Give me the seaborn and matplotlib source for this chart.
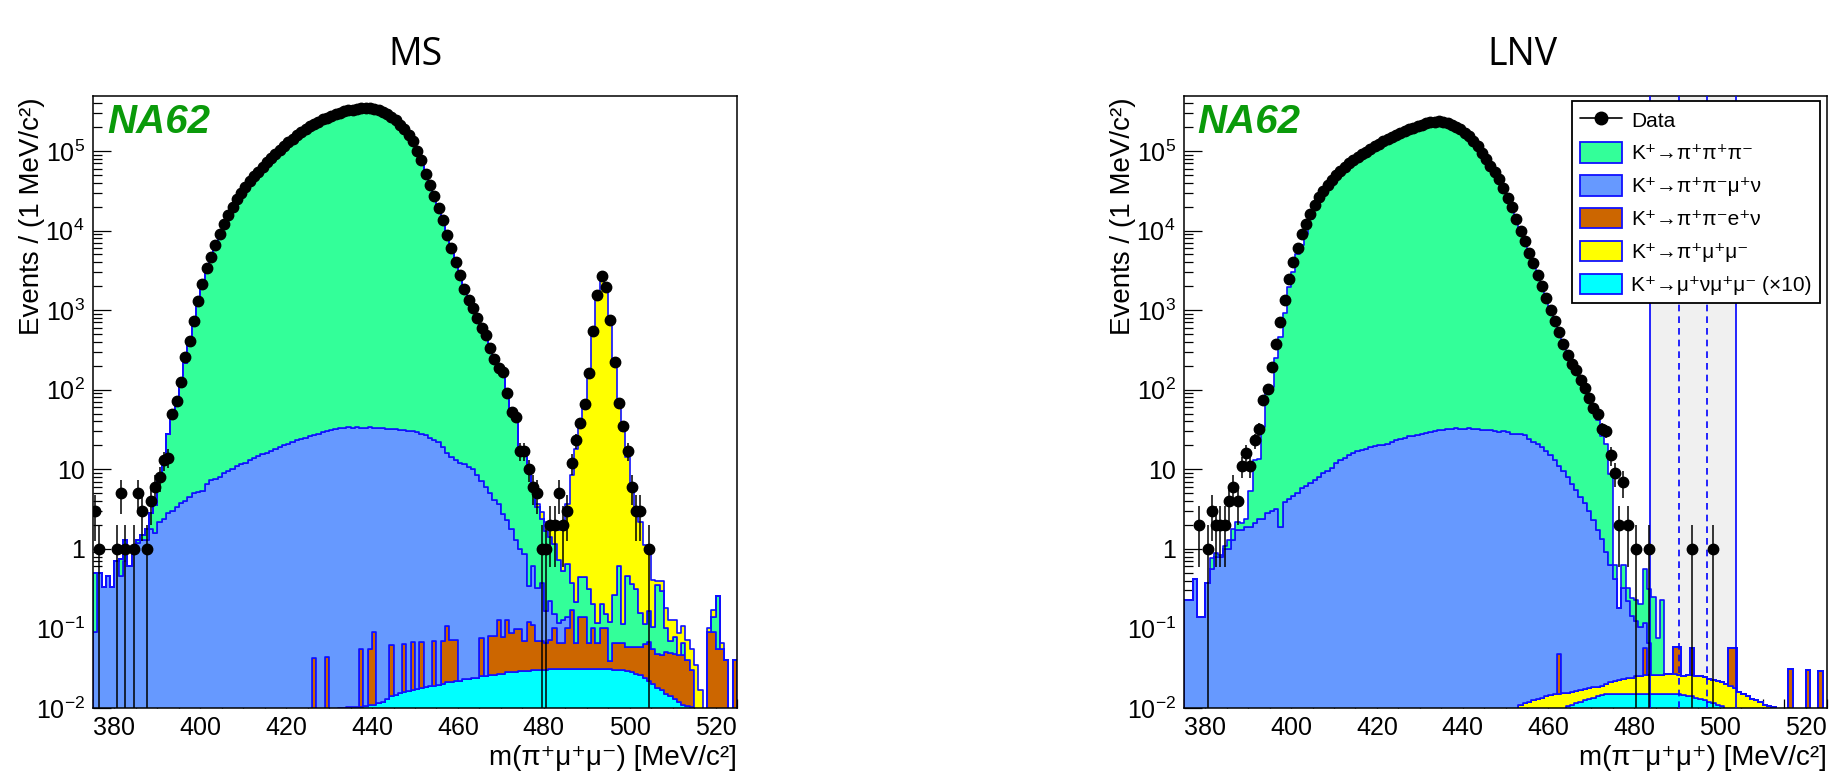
import numpy as np
import pandas as pd
import matplotlib
matplotlib.use("Agg")
import matplotlib.pyplot as plt
import seaborn as sns
from matplotlib.patches import Patch
from matplotlib.lines import Line2D
from matplotlib.ticker import FixedLocator, FuncFormatter, NullFormatter

# ---------------- data : 1 MeV bins from 375 to 525 MeV/c^2 ----------------
bin_edges = list(range(375, 526))
x_ticks = [380, 400, 420, 440, 460, 480, 500, 520]
y_ticks = [1e-2, 1e-1, 1, 10, 1e2, 1e3, 1e4, 1e5]

labels = ["K\u207a\u2192\u03c0\u207a\u03c0\u207a\u03c0\u207b",
          "K\u207a\u2192\u03c0\u207a\u03c0\u207b\u03bc\u207a\u03bd",
          "K\u207a\u2192\u03c0\u207a\u03c0\u207be\u207a\u03bd",
          "K\u207a\u2192\u03c0\u207a\u03bc\u207a\u03bc\u207b",
          "K\u207a\u2192\u03bc\u207a\u03bd\u03bc\u207a\u03bc\u207b (\u00d710)"]

# ---- MS panel ----
ms_data = [
    3, 1, 0, 0, 0, 1, 5, 1, 0, 1,
    5, 3, 1, 4, 6, 8, 13, 14, 50, 72,
    126, 260, 410, 730, 1300, 2130, 3400, 4650, 6550, 9100,
    12000, 15700, 20000, 25000, 30000, 35500, 41500, 48000, 55000, 63000,
    72000, 81000, 91000, 104000, 115000, 128000, 141000, 158000, 173000, 186000,
    203000, 219000, 234000, 251000, 263000, 275000, 288000, 302000, 316000, 324000,
    331000, 339000, 343000, 347000, 343000, 339000, 324000, 309000, 288000, 269000,
    245000, 214000, 186000, 158000, 132000, 100000, 76000, 51000, 37000, 27000,
    19000, 13500, 8900, 6000, 4000, 2750, 1860, 1350, 1050, 800,
    600, 490, 330, 245, 186, 166, 91, 52, 46, 17,
    17, 10, 6, 5, 1, 1, 2, 2, 5, 2,
    3, 12, 23, 38, 67, 160, 550, 1550, 2650, 1950,
    760, 224, 68, 35, 17, 6, 3, 3, 0, 1,
    0, 0, 0, 0, 0, 0, 0, 0, 0, 0,
    0, 0, 0, 0, 0, 0, 0, 0, 0, 0]

ms_k3pi = [
    0.4, 0, 0, 0, 0, 0, 0.3, 0.6, 0, 0.05,
    0.1, 0.2, 0.5, 1.0, 2.0, 5.0, 12, 25, 45, 70,
    130, 210, 380, 700, 1250, 1900, 3000, 4300, 6000, 8500,
    11500, 15000, 19500, 24500, 29500, 35000, 41000, 47500, 55000, 62000,
    71000, 80000, 90000, 102000, 113000, 126000, 139000, 155000, 170000, 183000,
    200000, 215000, 230000, 247000, 259000, 271000, 284000, 298000, 312000, 320000,
    327000, 335000, 339000, 342000, 339000, 335000, 322000, 307000, 288000, 270000,
    248000, 218000, 190000, 162000, 135000, 103000, 78000, 53000, 38500, 28000,
    19500, 14000, 9200, 6200, 4100, 2800, 1900, 1400, 1080, 830,
    620, 500, 340, 250, 190, 165, 95, 55, 45, 18,
    14, 10, 5, 3, 2, 1.5, 1.2, 1.0, 0.6, 0.4,
    0.5, 0.2, 0.15, 0.3, 0.3, 0.25, 0.1, 0.05, 0.1, 0.05,
    0.08, 0.2, 0.55, 0.05, 0.4, 0.3, 0.25, 0.1, 0.05, 0.1,
    0.05, 0.3, 0.25, 0.05, 0.02, 0.03, 0, 0.02, 0, 0,
    0, 0, 0, 0, 0.05, 0.2, 0, 0, 0, 0]

ms_ke4mu = [
    0.09, 0.5, 0.33, 0.45, 0.33, 0.7, 0.45, 0.7, 0.6, 1.0,
    1.2, 1.3, 1.3, 1.8, 1.6, 2.2, 2.4, 2.8, 3.0, 3.4,
    3.8, 4.0, 4.5, 5.0, 5.2, 5.4, 6.5, 7.3, 7.5, 8.0,
    9.0, 9.5, 10, 11, 11.5, 12, 13, 14, 14.5, 15.5,
    16, 17, 18, 19, 20, 21, 22, 23, 24, 25,
    26, 27, 28, 29, 30, 31, 32, 33, 33, 34,
    33, 34, 33, 33, 34, 33, 33, 33, 32, 32,
    32, 31, 31, 30, 30, 29, 28, 27, 25, 23,
    22, 19, 16, 14, 13, 12, 11.5, 10.5, 10, 8.5,
    7, 6, 5, 4, 3.5, 2.7, 2.2, 1.7, 1.2, 0.9,
    0.8, 0.22, 0.5, 0.25, 0.3, 0.1, 0.15, 0.05, 0.05, 0.06,
    0.04, 0, 0, 0, 0, 0, 0, 0, 0, 0,
    0, 0, 0, 0, 0, 0, 0, 0, 0, 0,
    0, 0, 0, 0, 0, 0, 0, 0, 0, 0,
    0, 0, 0, 0, 0, 0, 0, 0, 0, 0]

ms_ke4e = [
    0, 0, 0, 0, 0, 0, 0, 0, 0, 0,
    0, 0, 0, 0, 0, 0, 0, 0, 0, 0,
    0, 0, 0, 0, 0, 0, 0, 0, 0, 0,
    0, 0, 0, 0, 0, 0, 0, 0, 0, 0,
    0, 0, 0, 0, 0, 0, 0, 0, 0, 0,
    0, 0.042, 0, 0, 0.044, 0, 0, 0, 0, 0,
    0, 0, 0.045, 0, 0.045, 0.078, 0, 0, 0, 0.048,
    0, 0, 0.048, 0, 0.05, 0, 0.05, 0, 0, 0.05,
    0, 0.05, 0.085, 0.05, 0.05, 0, 0, 0, 0, 0,
    0.05, 0, 0.055, 0.055, 0.1, 0.05, 0.1, 0.06, 0.07, 0.07,
    0.04, 0.09, 0.08, 0.04, 0.04, 0.035, 0.04, 0.07, 0.035, 0.035,
    0.07, 0.14, 0.035, 0.11, 0.11, 0.035, 0.07, 0.035, 0.07, 0.07,
    0.008, 0.035, 0.035, 0.035, 0.03, 0.03, 0.032, 0.032, 0.04, 0.045,
    0.035, 0.03, 0.03, 0.035, 0.035, 0.035, 0.035, 0.035, 0.03, 0.02,
    0, 0, 0, 0.09, 0.09, 0.055, 0.055, 0.04, 0, 0.04]

ms_pimumu = [
    0, 0, 0, 0, 0, 0, 0, 0, 0, 0,
    0, 0, 0, 0, 0, 0, 0, 0, 0, 0,
    0, 0, 0, 0, 0, 0, 0, 0, 0, 0,
    0, 0, 0, 0, 0, 0, 0, 0, 0, 0,
    0, 0, 0, 0, 0, 0, 0, 0, 0, 0,
    0, 0, 0, 0, 0, 0, 0, 0, 0, 0,
    0, 0, 0, 0, 0, 0, 0, 0, 0, 0,
    0, 0, 0, 0, 0, 0, 0, 0, 0, 0,
    0, 0, 0, 0, 0, 0, 0, 0, 0, 0,
    0, 0, 0, 0, 0, 0, 0, 0, 0, 0,
    0, 0, 0.1, 0.3, 0.5, 0.5, 0.6, 0.8, 1.0, 1.6,
    3.0, 8, 18, 35, 65, 160, 540, 1500, 2700, 2000,
    720, 210, 66, 30, 14, 5, 2.5, 2.0, 1.0, 0.8,
    0.3, 0.05, 0.1, 0.08, 0.06, 0.05, 0.04, 0.04, 0.03, 0.025,
    0.035, 0.017, 0, 0.01, 0.03, 0, 0.01, 0, 0, 0]

ms_munumumu = [
    0, 0, 0, 0, 0, 0, 0, 0, 0, 0,
    0, 0, 0, 0, 0, 0, 0, 0, 0, 0,
    0, 0, 0, 0, 0, 0, 0, 0, 0, 0,
    0, 0, 0, 0, 0, 0, 0, 0, 0, 0,
    0, 0, 0, 0, 0, 0, 0, 0, 0, 0,
    0, 0, 0, 0, 0, 0, 0, 0.0101, 0.0101, 0.0102,
    0.0102, 0.0103, 0.0104, 0.0105, 0.0108, 0.011, 0.0115, 0.012, 0.013, 0.014,
    0.0145, 0.0155, 0.016, 0.0165, 0.017, 0.0175, 0.018, 0.0185, 0.019, 0.019,
    0.0195, 0.02, 0.021, 0.021, 0.022, 0.022, 0.023, 0.023, 0.024, 0.024,
    0.025, 0.025, 0.026, 0.026, 0.027, 0.027, 0.028, 0.028, 0.028, 0.029,
    0.029, 0.029, 0.030, 0.030, 0.030, 0.030, 0.031, 0.031, 0.031, 0.031,
    0.031, 0.031, 0.031, 0.031, 0.031, 0.031, 0.031, 0.031, 0.031, 0.031,
    0.031, 0.030, 0.030, 0.030, 0.029, 0.028, 0.027, 0.026, 0.024, 0.022,
    0.020, 0.018, 0.017, 0.015, 0.014, 0.013, 0.012, 0.011, 0.0105, 0.0102,
    0, 0, 0, 0, 0, 0, 0, 0, 0, 0]

# ---- LNV panel ----
lnv_data = [
    0, 0, 0, 2, 0, 1, 3, 2, 2, 2,
    4, 6, 4, 11, 16, 11, 23, 32, 75, 102,
    193, 380, 700, 1320, 2450, 4000, 6000, 9100, 12000, 16200,
    21000, 26000, 31600, 37000, 43600, 50000, 56000, 63000, 70800, 77600,
    85000, 91000, 98000, 105000, 115000, 123000, 132000, 141000, 151000, 158000,
    166000, 178000, 186000, 195000, 204000, 214000, 224000, 229000, 234000, 237000,
    234000, 224000, 214000, 200000, 186000, 170000, 155000, 135000, 115000, 95000,
    79000, 64500, 54000, 44700, 34000, 25700, 19500, 13800, 10000, 7400,
    5250, 3900, 2800, 2000, 1400, 1000, 720, 525, 370, 275,
    210, 178, 132, 105, 78, 58, 49, 32, 30, 15,
    9, 2, 7, 2, 0, 1, 0, 0, 1, 0,
    0, 0, 0, 0, 0, 0, 0, 0, 1, 0,
    0, 0, 0, 1, 0, 0, 0, 0, 0, 0,
    0, 0, 0, 0, 0, 0, 0, 0, 0, 0,
    0, 0, 0, 0, 0, 0, 0, 0, 0, 0]

lnv_k3pi = [
    0, 0, 0, 0, 0, 0, 0.2, 0.1, 0.05, 0.1,
    0.3, 0.5, 0.5, 0.4, 0.5, 3.5, 11, 11, 32, 105,
    105, 245, 455, 905, 1940, 3000, 5000, 6600, 9000, 14000,
    19000, 24500, 30000, 35500, 41500, 47500, 53500, 60000, 67000, 74000,
    81000, 87000, 94000, 101000, 110000, 118000, 126000, 135000, 144000, 151000,
    159000, 170000, 178000, 187000, 196000, 205000, 214000, 219000, 224000, 227000,
    224000, 215000, 206000, 193000, 180000, 164000, 150000, 131000, 112000, 93000,
    78000, 64000, 54000, 45000, 34500, 26000, 20000, 14200, 10300, 7600,
    5400, 4000, 2900, 2050, 1450, 1030, 740, 540, 380, 280,
    215, 180, 135, 105, 78, 52, 40, 25, 20, 8,
    0.2, 0, 0.3, 0.1, 0.1, 0.1, 0.1, 0.45, 0.25, 0.22,
    0.05, 0.2, 0, 0, 0, 0, 0, 0, 0, 0,
    0, 0, 0, 0, 0, 0, 0, 0, 0, 0,
    0, 0, 0, 0, 0, 0, 0, 0, 0, 0,
    0, 0, 0, 0, 0, 0, 0, 0, 0, 0]

lnv_ke4mu = [
    0.23, 0.23, 0.42, 0.14, 0.14, 0.37, 0.56, 0.79, 0.79, 1.0,
    1.0, 1.3, 1.7, 1.7, 1.9, 1.9, 2.1, 2.4, 2.4, 2.8,
    3.0, 3.2, 1.9, 3.9, 4.2, 4.6, 5.0, 5.8, 6.2, 6.8,
    7.3, 8.0, 8.9, 9.5, 10.5, 12, 13, 14, 15, 16,
    17, 17.5, 18, 19, 19.5, 20, 20, 21, 22, 23,
    24, 25, 26, 26, 27, 28, 28.5, 29, 30, 31,
    31, 32, 32, 33, 32, 32, 33, 32, 32, 31,
    31, 31, 30, 29, 30, 29, 28, 28, 28, 27,
    24, 22, 21, 19, 17, 15, 13, 11, 9.5, 8,
    6.5, 5.5, 4.5, 3.7, 3.0, 2.3, 1.7, 1.3, 0.9, 0.6,
    0.4, 0.16, 0.3, 0.2, 0.12, 0.1, 0.08, 0.06, 0.04, 0,
    0, 0, 0, 0, 0, 0, 0, 0, 0, 0,
    0, 0, 0, 0, 0, 0, 0, 0, 0, 0,
    0, 0, 0, 0, 0, 0, 0, 0, 0, 0,
    0, 0, 0, 0, 0, 0, 0, 0, 0, 0]

lnv_ke4e = [
    0, 0, 0, 0, 0, 0, 0, 0, 0, 0,
    0, 0, 0, 0, 0, 0, 0, 0, 0, 0,
    0, 0, 0, 0, 0, 0, 0, 0, 0, 0,
    0, 0, 0, 0, 0, 0, 0, 0, 0, 0,
    0, 0, 0, 0, 0, 0, 0, 0, 0, 0,
    0, 0, 0, 0, 0, 0, 0, 0, 0, 0,
    0, 0, 0, 0, 0, 0, 0, 0, 0, 0,
    0, 0, 0, 0, 0, 0, 0, 0, 0, 0,
    0, 0, 0, 0, 0, 0, 0, 0.033, 0, 0,
    0, 0, 0, 0, 0, 0, 0, 0, 0, 0,
    0, 0, 0, 0, 0, 0, 0, 0.03, 0, 0,
    0, 0, 0, 0, 0.032, 0.032, 0, 0, 0.03, 0,
    0, 0, 0, 0, 0, 0, 0, 0.038, 0.038, 0,
    0, 0, 0, 0, 0, 0, 0, 0, 0, 0,
    0, 0.031, 0, 0, 0, 0.030, 0, 0, 0.029, 0]

lnv_pimumu = [
    0, 0, 0, 0, 0, 0, 0, 0, 0, 0,
    0, 0, 0, 0, 0, 0, 0, 0, 0, 0,
    0, 0, 0, 0, 0, 0, 0, 0, 0, 0,
    0, 0, 0, 0, 0, 0, 0, 0, 0, 0,
    0, 0, 0, 0, 0, 0, 0, 0, 0, 0,
    0, 0, 0, 0, 0, 0, 0, 0, 0, 0,
    0, 0, 0, 0, 0, 0, 0, 0, 0, 0,
    0, 0, 0, 0, 0, 0, 0, 0, 0.011, 0.0115,
    0.012, 0.0125, 0.013, 0.0135, 0.014, 0.0145, 0.015, 0.015, 0.0155, 0.005,
    0.005, 0.005, 0.005, 0.005, 0.005, 0.005, 0.0045, 0.0045, 0.005, 0.006,
    0.007, 0.0075, 0.008, 0.0085, 0.009, 0.010, 0.010, 0.011, 0.011, 0.011,
    0.011, 0.011, 0.012, 0.012, 0.012, 0.011, 0.011, 0.012, 0.012, 0.012,
    0.012, 0.012, 0.011, 0.011, 0.011, 0.011, 0.020, 0.019, 0.018, 0.016,
    0.015, 0.014, 0.013, 0.0125, 0.012, 0.011, 0.0105, 0.0102, 0, 0,
    0, 0, 0, 0, 0, 0, 0, 0, 0, 0]

lnv_munumumu = [
    0, 0, 0, 0, 0, 0, 0, 0, 0, 0,
    0, 0, 0, 0, 0, 0, 0, 0, 0, 0,
    0, 0, 0, 0, 0, 0, 0, 0, 0, 0,
    0, 0, 0, 0, 0, 0, 0, 0, 0, 0,
    0, 0, 0, 0, 0, 0, 0, 0, 0, 0,
    0, 0, 0, 0, 0, 0, 0, 0, 0, 0,
    0, 0, 0, 0, 0, 0, 0, 0, 0, 0,
    0, 0, 0, 0, 0, 0, 0, 0, 0, 0,
    0, 0, 0, 0, 0, 0, 0, 0, 0, 0.0105,
    0.011, 0.0115, 0.012, 0.0125, 0.013, 0.0135, 0.014, 0.0145, 0.015, 0.015,
    0.015, 0.015, 0.015, 0.015, 0.015, 0.015, 0.015, 0.015, 0.015, 0.015,
    0.015, 0.015, 0.015, 0.015, 0.015, 0.015, 0.0145, 0.014, 0.014, 0.0135,
    0.013, 0.0125, 0.012, 0.0115, 0.011, 0.0105, 0, 0, 0, 0,
    0, 0, 0, 0, 0, 0, 0, 0, 0, 0,
    0, 0, 0, 0, 0, 0, 0, 0, 0, 0]

# signal window of the LNV search (MeV/c^2)
window_outer = [483.7, 503.7]
window_inner = [490.4, 497.0]

# ---------------- style ----------------
sns.set_theme(style="ticks")
plt.rcParams["font.family"] = ["Liberation Sans", "DejaVu Sans"]
plt.rcParams.update({
    "mathtext.fontset": "custom",
    "mathtext.rm": "Liberation Sans",
    "mathtext.it": "Liberation Sans:italic",
    "mathtext.bf": "Liberation Sans:bold",
    "axes.edgecolor": "black", "text.color": "black",
    "axes.labelcolor": "black", "xtick.color": "black", "ytick.color": "black",
})

GREEN, BLUE, ORANGE, YELLOW, CYAN = "#33ff99", "#6699ff", "#cc6600", "#ffff00", "#00ffff"
EDGE = "#1010ff"
palette = dict(zip(labels, [GREEN, BLUE, ORANGE, YELLOW, CYAN]))

centers = np.array(bin_edges[:-1], dtype=float) + 0.5


def minor_log_ticks():
    out = []
    for e in range(-2, 6):
        for s in range(2, 10):
            v = s * 10.0 ** e
            if v < 4.9e5:
                out.append(v)
    return out


def panel(ax, comps, top_to_bottom, data, xlabel, na62_x):
    frames = []
    for name, vals in comps.items():
        vals = np.asarray(vals, dtype=float)
        assert len(vals) == 150
        frames.append(pd.DataFrame({"mass": centers, "events": vals, "component": name}))
    df = pd.concat(frames, ignore_index=True)
    sns.histplot(data=df, x="mass", weights="events", hue="component",
                 hue_order=top_to_bottom, multiple="stack", bins=bin_edges,
                 element="step", fill=True, palette=palette, alpha=1,
                 edgecolor=EDGE, linewidth=1.2, legend=False, ax=ax, zorder=2)
    ax.set_yscale("log")

    d = np.asarray(data, dtype=float)
    assert len(d) == 150
    m = d > 0
    y = d[m]
    err = np.sqrt(y)
    lo = np.minimum(err, y - 1e-4)
    ax.errorbar(centers[m], y, yerr=[lo, err], xerr=0.5, fmt="o", ms=7.5,
                color="black", ecolor="black", elinewidth=1.1, capsize=0, zorder=10)

    ax.set_xlim(375, 525)
    ax.set_ylim(0.01, 4.9e5)
    ax.xaxis.set_major_locator(FixedLocator(x_ticks))
    ax.xaxis.set_minor_locator(FixedLocator(list(range(375, 526, 5))))
    ax.xaxis.set_minor_formatter(NullFormatter())
    ax.yaxis.set_major_locator(FixedLocator(y_ticks))
    ax.yaxis.set_minor_locator(FixedLocator(minor_log_ticks()))
    ax.yaxis.set_minor_formatter(NullFormatter())

    def yfmt(v, pos):
        e = int(round(np.log10(v)))
        if e == 0:
            return "1"
        if e == 1:
            return "10"
        return r"$10^{%d}$" % e
    ax.yaxis.set_major_formatter(FuncFormatter(yfmt))
    ax.tick_params(which="both", direction="in", top=False, right=False,
                   labelsize=18, pad=6)
    ax.tick_params(which="major", length=13, width=0.9)
    ax.tick_params(which="minor", length=6.5, width=0.9)
    for s in ax.spines.values():
        s.set_linewidth(1.1)
        s.set_color("black")
        s.set_visible(True)

    ax.set_xlabel(xlabel, fontsize=20, loc="right")
    ax.xaxis.set_label_coords(1.0, -0.06)
    ax.set_ylabel("Events / (1 MeV/c\u00b2)", fontsize=20, loc="top")
    ax.yaxis.set_label_coords(-0.074, 0.998)

    ax.text(na62_x, 0.988, "NA62", transform=ax.transAxes, ha="left", va="top",
            fontsize=29, fontweight="bold", fontstyle="italic", color="#0a9a0a",
            family="Liberation Sans", zorder=12)


fig = plt.figure(figsize=(18.37, 7.75), dpi=100)
ax1 = fig.add_axes([93 / 1837, 67 / 775, 644 / 1837, 612 / 775])
ax2 = fig.add_axes([1184 / 1837, 67 / 775, 643 / 1837, 612 / 775])

# MS: bottom -> top : cyan, orange, blue, green, yellow
panel(ax1,
      {labels[0]: ms_k3pi, labels[1]: ms_ke4mu, labels[2]: ms_ke4e,
       labels[3]: ms_pimumu, labels[4]: ms_munumumu},
      [labels[3], labels[0], labels[1], labels[2], labels[4]],
      ms_data, "m(\u03c0\u207a\u03bc\u207a\u03bc\u207b) [MeV/c\u00b2]", 0.022)

# LNV: bottom -> top : cyan, yellow, orange, blue, green
ax2.axvspan(window_outer[0], window_outer[1], facecolor="#f0f0f0", edgecolor="none", zorder=0.5)
panel(ax2,
      {labels[0]: lnv_k3pi, labels[1]: lnv_ke4mu, labels[2]: lnv_ke4e,
       labels[3]: lnv_pimumu, labels[4]: lnv_munumumu},
      [labels[0], labels[1], labels[2], labels[3], labels[4]],
      lnv_data, "m(\u03c0\u207b\u03bc\u207a\u03bc\u207a) [MeV/c\u00b2]", 0.02)
for xv in window_outer:
    ax2.axvline(xv, color="#0000ff", lw=1.2, zorder=6)
for xv in window_inner:
    ax2.axvline(xv, color="#0000ff", lw=1.2, ls=(0, (4, 3)), zorder=6)

handles = [Line2D([0], [0], color="black", marker="o", ms=9, lw=1.2)] + \
          [Patch(facecolor=palette[l], edgecolor=EDGE, linewidth=1.3) for l in labels]
leg = ax2.legend(handles, ["Data"] + labels, loc="upper right",
                 bbox_to_anchor=(0.989, 0.992), borderaxespad=0, fontsize=15,
                 frameon=True, fancybox=False, edgecolor="black", framealpha=1,
                 handlelength=2.0, handleheight=1.15, labelspacing=0.55,
                 borderpad=0.4, handletextpad=0.45)
leg.get_frame().set_linewidth(1.3)
leg.set_zorder(20)

fig.text(416 / 1837, 1 - 55 / 775, "MS", ha="center", va="center", fontsize=27,
         family="Open Sans")
fig.text(1522 / 1837, 1 - 55 / 775, "LNV", ha="center", va="center", fontsize=27,
         family="Open Sans")

fig.savefig("out.png", dpi=100)
